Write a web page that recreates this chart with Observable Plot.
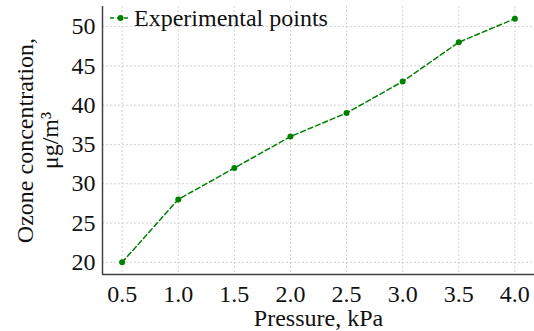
<!DOCTYPE html>
<html><head><meta charset="utf-8">
<script src="https://cdn.jsdelivr.net/npm/d3@7"></script>
<script src="https://cdn.jsdelivr.net/npm/@observablehq/plot@0.6"></script>
<style>body{margin:0;background:#fff} #chart svg, #chart text{font-family:"Liberation Serif","Times New Roman",serif !important;}</style>
</head><body><div id="chart"></div>
<script>
const pressure = [0.5, 1.0, 1.5, 2.0, 2.5, 3.0, 3.5, 4.0];
const ozone = [20, 28, 32, 36, 39, 43, 48, 51];
const xTicks = [0.5, 1.0, 1.5, 2.0, 2.5, 3.0, 3.5, 4.0];
const yTicks = [20, 25, 30, 35, 40, 45, 50];
const seriesName = "Experimental points";
const xLabel = "Pressure, kPa";
const yLabel = "Ozone concentration,\nμg/m³";

const data = pressure.map((p, i) => ({p, o: ozone[i]}));
const green = "#008000";
const font = "Liberation Serif";
const fs = 24;

const plot = Plot.plot({
  width: 534, height: 331,
  marginLeft: 102, marginRight: 0, marginTop: 6, marginBottom: 57,
  style: `font-family: 'Liberation Serif', serif; font-size: ${fs}px; color: #111; background: #fff;`,
  x: {domain: [0.325, 4.175], ticks: xTicks, tickFormat: d3.format(".1f"), label: null},
  y: {domain: [18.45, 52.55], ticks: yTicks, label: null},
  marks: [
    Plot.ruleX(xTicks, {stroke: "#c8c8c8", strokeDasharray: "2,2", strokeWidth: 0.8}),
    Plot.ruleY(yTicks, {stroke: "#c8c8c8", strokeDasharray: "2,2", strokeWidth: 0.8}),
    Plot.axisX({ticks: xTicks, tickSize: 0, tickPadding: 10, tickFormat: d3.format(".1f"), label: null, fontSize: fs, fontFamily: font, fill: "#111"}),
    Plot.axisY({ticks: yTicks, tickSize: 0, tickPadding: 7, label: null, fontSize: fs, fontFamily: font, fill: "#111"}),
    Plot.ruleX([0.325], {stroke: "#444", strokeWidth: 1.5}),
    Plot.ruleY([18.45], {stroke: "#444", strokeWidth: 1.5}),
    Plot.line(data, {x: "p", y: "o", stroke: green, strokeWidth: 1.5, strokeDasharray: "5,3"}),
    Plot.dot(data, {x: "p", y: "o", fill: green, r: 3}),
    Plot.text([xLabel], {frameAnchor: "bottom", dy: 44, fontSize: fs, fontFamily: font, fill: "#111", lineAnchor: "middle"}),
    Plot.text([yLabel], {frameAnchor: "left", dx: -65, rotate: -90, textAnchor: "middle", lineAnchor: "middle", fontSize: fs, fontFamily: font, fill: "#111", lineHeight: 1.05})
  ]
});
document.getElementById("chart").appendChild(plot);

// legend
const svg = d3.select(plot);
const lg = svg.append("g");
lg.append("line").attr("x1", 110).attr("x2", 131).attr("y1", 18).attr("y2", 18)
  .attr("stroke", green).attr("stroke-width", 1.5).attr("stroke-dasharray", "4,3");
lg.append("circle").attr("cx", 120.5).attr("cy", 18).attr("r", 3).attr("fill", green);
lg.append("text").attr("x", 134).attr("y", 26).attr("font-size", fs).attr("text-anchor", "start")
  .attr("font-family", font).attr("fill", "#111").text(seriesName);
</script>
</body></html>
